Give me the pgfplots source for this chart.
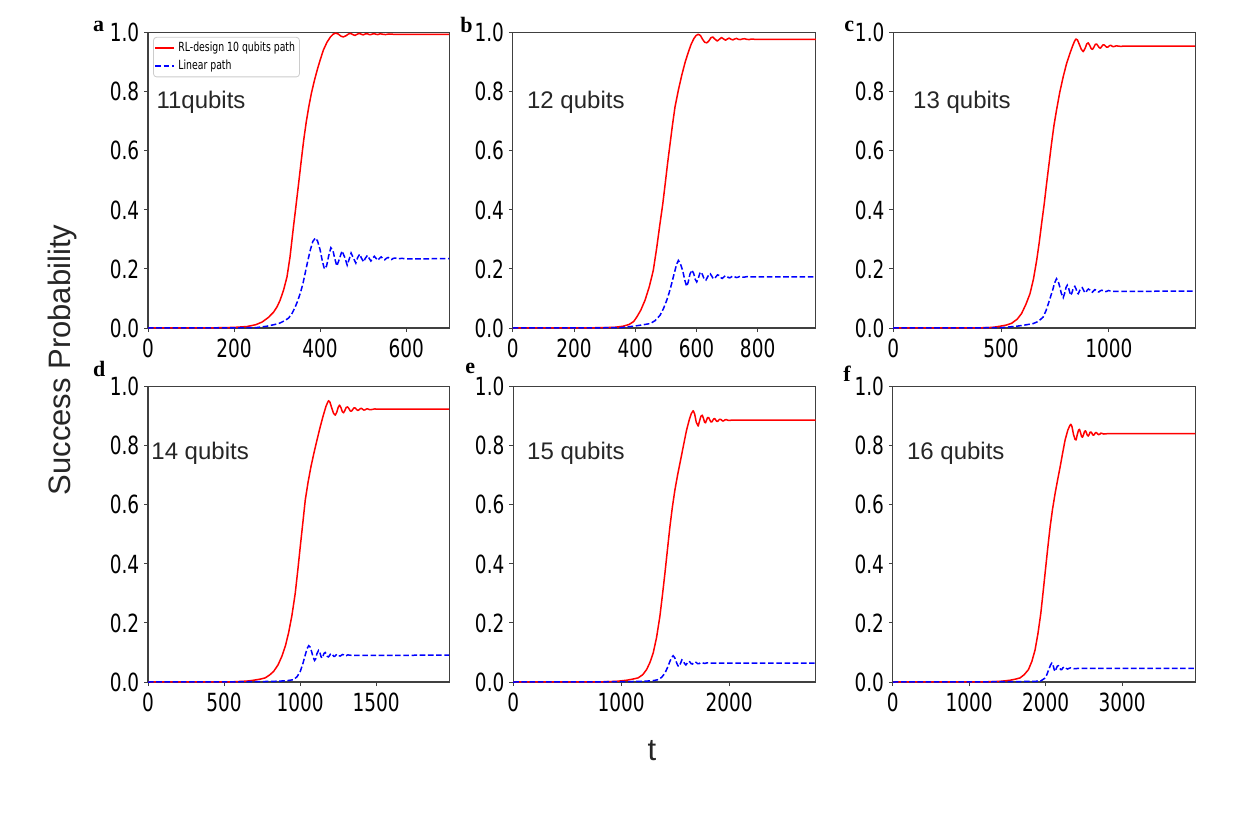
\documentclass[border=0pt]{standalone}
\usepackage{fontspec}
\setmainfont{Liberation Sans}
\newfontfamily\tickfont[FakeStretch=0.74]{DejaVu Sans}
\newfontfamily\letterfont{Liberation Serif}
\usepackage{pgfplots}
\pgfplotsset{compat=1.18}

\definecolor{framegray}{gray}{0.25}
\definecolor{textgray}{gray}{0.15}

\pgfplotsset{
  panel/.style={
    scale only axis, height=147.6bp, anchor=north west,
    xmin=0, ymin=0, ymax=1,
    ytick={0,0.2,0.4,0.6,0.8,1.0},
    yticklabels={0.0,0.2,0.4,0.6,0.8,1.0},
    axis line style={framegray, line width=0.6bp},
    tick style={framegray, line width=0.5bp},
    major tick length=2bp, tick align=outside,
    xtick pos=bottom, ytick pos=left,
    /pgf/number format/assume math mode=true,
    ticklabel style={font=\tickfont\fontsize{12.5bp}{12.5bp}\selectfont, inner sep=1.2bp},
    xticklabel style={yshift=-2.3bp},
    yticklabel style={xshift=-1bp},
    clip=true,
  },
  rl/.style={draw=red, line width=0.75bp, line join=round},
  lin/.style={draw=blue, line width=0.75bp, dash pattern=on 2.8bp off 1.3bp},
}
\tikzset{
  qlabel/.style={anchor=base west, font=\fontsize{12bp}{12bp}\selectfont, text=textgray, inner sep=0pt},
}

\begin{document}
\begin{tikzpicture}
\useasboundingbox (0,0) rectangle (620.5bp,-410bp);

% ---------------- a: 11 qubits ----------------
\begin{axis}[panel, at={(74bp,-16.4bp)}, width=150.6bp, xmax=700,
  xtick={0,200,400,600}, xticklabels={0,200,400,600},
  legend style={at={(0.017,0.986)}, anchor=north west, draw=black!20, line width=0.4bp,
    rounded corners=1.5bp, fill=white, font=\tickfont\fontsize{6.3bp}{7bp}\selectfont,
    inner xsep=0.6bp, inner ysep=1.7bp, row sep=1.4bp, cells={anchor=west},
    nodes={inner ysep=0.6bp, inner xsep=1.6bp}},
  legend image code/.code={\draw[#1] (0bp,0bp) -- (9.5bp,0bp);}]
\addplot[rl] coordinates {(0,0) (150,0.0005) (200,0.002) (230,0.005) (250,0.011) (265,0.02) (280,0.036) (292,0.054) (300,0.072) (307,0.094) (315,0.128) (323,0.173) (330,0.24) (338,0.342) (344,0.415) (350,0.489) (356,0.565) (362,0.638) (368,0.70) (374,0.752) (380,0.797) (387,0.84) (394,0.878) (401,0.912) (408,0.943) (416,0.968) (424,0.986) (430,0.995) (436,0.999) (442,0.996) (448,0.989) (454,0.986) (460,0.99) (466,0.996) (471,0.998) (476,0.994) (481,0.991) (486,0.995) (491,0.998) (496,0.995) (500,0.993) (505,0.996) (510,0.997) (514,0.994) (518,0.994) (522,0.996) (526,0.997) (530,0.995) (534,0.994) (538,0.996) (542,0.996) (546,0.995) (552,0.994) (560,0.996) (570,0.995) (700,0.995)};
\addlegendentry{RL-design 10 qubits path}
\addplot[lin] coordinates {(0,0) (250,0.001) (276,0.006) (295,0.012) (307,0.017) (318,0.025) (327,0.034) (335,0.05) (342,0.071) (348,0.092) (354,0.118) (360,0.15) (365,0.184) (371,0.225) (377,0.263) (383,0.293) (389,0.305) (394,0.295) (400,0.265) (405,0.228) (410,0.2) (415,0.21) (420,0.245) (425,0.272) (430,0.262) (434,0.235) (439,0.21) (445,0.235) (451,0.261) (457,0.24) (463,0.213) (468,0.235) (472,0.254) (477,0.238) (483,0.22) (487,0.238) (492,0.25) (496,0.237) (501,0.224) (505,0.236) (510,0.246) (514,0.236) (518,0.227) (522,0.236) (526,0.243) (530,0.236) (534,0.229) (538,0.236) (542,0.241) (546,0.235) (550,0.231) (554,0.236) (558,0.239) (562,0.235) (566,0.232) (570,0.236) (575,0.237) (580,0.234) (590,0.236) (600,0.234) (700,0.235)};
\addlegendentry{Linear path}
\node[qlabel] at (rel axis cs:0.027,0.742) {11qubits};
\end{axis}

% ---------------- b: 12 qubits ----------------
\begin{axis}[panel, at={(256.4bp,-16.4bp)}, width=151.5bp, xmax=990,
  xtick={0,200,400,600,800}, xticklabels={0,200,400,600,800}]
\addplot[rl] coordinates {(0,0) (250,0.0005) (330,0.002) (360,0.006) (380,0.012) (395,0.022) (405,0.037) (418,0.06) (432,0.094) (446,0.14) (459,0.195) (470,0.27) (481,0.354) (490,0.42) (498,0.489) (506,0.56) (514,0.625) (522,0.69) (530,0.749) (541,0.806) (552,0.856) (563,0.9) (574,0.936) (583,0.962) (592,0.981) (599,0.991) (606,0.995) (613,0.991) (620,0.978) (627,0.968) (634,0.966) (641,0.973) (647,0.983) (653,0.986) (660,0.979) (668,0.972) (675,0.978) (682,0.984) (689,0.979) (695,0.975) (701,0.979) (707,0.982) (713,0.978) (719,0.976) (725,0.979) (731,0.981) (737,0.978) (743,0.977) (750,0.979) (757,0.98) (764,0.978) (772,0.977) (780,0.979) (790,0.978) (990,0.978)};
\addplot[lin] coordinates {(0,0) (350,0.001) (394,0.006) (420,0.01) (449,0.015) (465,0.025) (481,0.043) (492,0.065) (503,0.094) (511,0.12) (519,0.15) (525,0.175) (530,0.195) (535,0.215) (541,0.229) (547,0.22) (555,0.195) (562,0.162) (568,0.141) (573,0.155) (579,0.183) (585,0.196) (591,0.185) (596,0.165) (601,0.156) (606,0.168) (611,0.185) (615,0.19) (620,0.18) (626,0.164) (631,0.162) (636,0.172) (641,0.182) (645,0.184) (650,0.176) (655,0.167) (659,0.167) (664,0.174) (669,0.18) (674,0.178) (679,0.171) (684,0.168) (689,0.172) (694,0.177) (699,0.176) (704,0.171) (709,0.17) (714,0.173) (719,0.176) (724,0.174) (730,0.171) (736,0.172) (742,0.175) (748,0.173) (755,0.172) (765,0.174) (780,0.173) (990,0.173)};
\node[qlabel] at (rel axis cs:0.046,0.742) {12 qubits};
\end{axis}

% ---------------- c: 13 qubits ----------------
\begin{axis}[panel, at={(446.6bp,-16.4bp)}, width=151bp, xmax=1400,
  xtick={0,500,1000}, xticklabels={0,500,1000}]
\addplot[rl] coordinates {(0,0) (400,0.0005) (460,0.002) (495,0.006) (525,0.01) (549,0.016) (575,0.03) (595,0.049) (615,0.08) (634,0.116) (650,0.165) (665,0.229) (677,0.29) (688,0.354) (700,0.42) (711,0.489) (723,0.56) (734,0.625) (745,0.685) (757,0.738) (772,0.798) (788,0.851) (803,0.894) (819,0.93) (833,0.958) (841,0.972) (847,0.979) (854,0.976) (862,0.962) (872,0.944) (881,0.936) (890,0.948) (897,0.962) (904,0.966) (912,0.956) (918,0.946) (924,0.944) (931,0.952) (937,0.961) (943,0.962) (950,0.955) (956,0.949) (961,0.948) (967,0.954) (972,0.959) (978,0.959) (984,0.955) (990,0.951) (996,0.952) (1002,0.956) (1008,0.958) (1014,0.955) (1020,0.953) (1027,0.954) (1034,0.956) (1042,0.955) (1055,0.954) (1070,0.955) (1400,0.955)};
\addplot[lin] coordinates {(0,0) (500,0.001) (572,0.006) (610,0.01) (649,0.015) (672,0.022) (695,0.037) (708,0.058) (719,0.082) (729,0.105) (739,0.128) (748,0.152) (757,0.167) (765,0.158) (772,0.14) (779,0.118) (788,0.103) (795,0.118) (801,0.137) (807,0.145) (814,0.133) (822,0.111) (828,0.118) (835,0.135) (842,0.141) (848,0.132) (853,0.118) (858,0.116) (864,0.126) (870,0.135) (876,0.137) (882,0.129) (888,0.12) (893,0.12) (899,0.128) (905,0.132) (911,0.129) (917,0.122) (923,0.121) (929,0.126) (935,0.13) (941,0.128) (947,0.123) (953,0.122) (960,0.126) (967,0.128) (974,0.126) (981,0.123) (989,0.124) (998,0.127) (1008,0.125) (1025,0.124) (1400,0.125)};
\node[qlabel] at (rel axis cs:0.065,0.742) {13 qubits};
\end{axis}

% ---------------- d: 14 qubits ----------------
\begin{axis}[panel, at={(74bp,-193.4bp)}, width=150.6bp, xmax=1980,
  xtick={0,500,1000,1500}, xticklabels={0,500,1000,1500}]
\addplot[rl] coordinates {(0,0) (550,0.0005) (650,0.003) (694,0.006) (740,0.01) (771,0.014) (800,0.024) (826,0.036) (855,0.058) (880,0.087) (903,0.122) (924,0.166) (946,0.225) (968,0.301) (985,0.38) (1001,0.459) (1018,0.54) (1034,0.617) (1052,0.676) (1071,0.729) (1091,0.776) (1111,0.82) (1131,0.862) (1150,0.899) (1170,0.934) (1180,0.946) (1187,0.953) (1196,0.948) (1208,0.928) (1220,0.91) (1231,0.904) (1241,0.914) (1250,0.93) (1259,0.938) (1268,0.93) (1277,0.916) (1286,0.912) (1295,0.921) (1303,0.93) (1312,0.932) (1321,0.926) (1330,0.918) (1339,0.918) (1347,0.924) (1355,0.929) (1363,0.928) (1371,0.923) (1379,0.92) (1387,0.922) (1395,0.926) (1403,0.927) (1411,0.924) (1419,0.921) (1427,0.922) (1436,0.925) (1445,0.925) (1455,0.923) (1470,0.923) (1490,0.925) (1520,0.924) (1980,0.924)};
\addplot[lin] coordinates {(0,0) (700,0.001) (800,0.002) (869,0.003) (920,0.005) (957,0.008) (980,0.018) (1001,0.036) (1018,0.062) (1034,0.092) (1045,0.112) (1056,0.123) (1066,0.118) (1075,0.104) (1085,0.085) (1095,0.073) (1102,0.078) (1110,0.095) (1121,0.107) (1130,0.1) (1137,0.087) (1143,0.081) (1150,0.087) (1157,0.097) (1165,0.1) (1172,0.095) (1179,0.087) (1186,0.085) (1193,0.089) (1200,0.095) (1207,0.096) (1214,0.092) (1221,0.087) (1228,0.087) (1235,0.091) (1242,0.094) (1249,0.093) (1256,0.089) (1263,0.088) (1270,0.09) (1278,0.093) (1286,0.092) (1294,0.089) (1303,0.089) (1313,0.092) (1325,0.091) (1345,0.09) (1980,0.091)};
\node[qlabel] at (rel axis cs:0.01,0.753) {14 qubits};
\end{axis}

% ---------------- e: 15 qubits ----------------
\begin{axis}[panel, at={(256.6bp,-193.4bp)}, width=151.2bp, xmax=2800,
  xtick={0,1000,2000}, xticklabels={0,1000,2000}]
\addplot[rl] coordinates {(0,0) (800,0.0005) (950,0.002) (1050,0.006) (1110,0.01) (1157,0.014) (1200,0.025) (1235,0.042) (1266,0.066) (1296,0.098) (1327,0.15) (1358,0.222) (1382,0.295) (1405,0.369) (1428,0.448) (1451,0.526) (1474,0.593) (1497,0.65) (1523,0.703) (1550,0.752) (1578,0.804) (1605,0.853) (1630,0.888) (1650,0.91) (1667,0.919) (1680,0.908) (1695,0.88) (1713,0.867) (1726,0.885) (1738,0.9) (1750,0.904) (1762,0.893) (1772,0.88) (1781,0.878) (1790,0.887) (1800,0.896) (1810,0.896) (1820,0.888) (1830,0.881) (1840,0.881) (1849,0.887) (1858,0.892) (1867,0.892) (1876,0.887) (1885,0.883) (1894,0.883) (1903,0.887) (1912,0.89) (1921,0.89) (1930,0.887) (1940,0.884) (1950,0.885) (1961,0.888) (1972,0.889) (1985,0.887) (2000,0.886) (2020,0.887) (2800,0.887)};
\addplot[lin] coordinates {(0,0) (1000,0.001) (1150,0.002) (1235,0.003) (1300,0.005) (1343,0.008) (1375,0.016) (1405,0.03) (1430,0.05) (1451,0.07) (1466,0.082) (1481,0.089) (1496,0.082) (1512,0.066) (1525,0.055) (1537,0.053) (1550,0.064) (1562,0.075) (1574,0.072) (1586,0.063) (1599,0.058) (1612,0.064) (1624,0.07) (1636,0.068) (1648,0.062) (1660,0.061) (1672,0.065) (1684,0.068) (1696,0.066) (1708,0.062) (1720,0.062) (1733,0.065) (1746,0.066) (1760,0.064) (1775,0.063) (1795,0.065) (1820,0.064) (2800,0.064)};
\node[qlabel] at (rel axis cs:0.045,0.753) {15 qubits};
\end{axis}

% ---------------- f: 16 qubits ----------------
\begin{axis}[panel, at={(446.4bp,-193.4bp)}, width=151.3bp, xmax=3960,
  xtick={0,1000,2000,3000}, xticklabels={0,1000,2000,3000}]
\addplot[rl] coordinates {(0,0) (1200,0.0005) (1400,0.002) (1535,0.006) (1610,0.01) (1666,0.014) (1720,0.025) (1775,0.042) (1820,0.07) (1862,0.109) (1900,0.165) (1937,0.233) (1965,0.3) (1993,0.369) (2026,0.45) (2059,0.526) (2090,0.585) (2124,0.639) (2157,0.685) (2190,0.729) (2222,0.775) (2255,0.82) (2290,0.853) (2315,0.868) (2330,0.873) (2345,0.865) (2365,0.838) (2385,0.822) (2399,0.82) (2412,0.836) (2430,0.853) (2443,0.856) (2455,0.846) (2470,0.832) (2482,0.829) (2495,0.837) (2508,0.848) (2521,0.851) (2533,0.845) (2545,0.836) (2557,0.833) (2569,0.838) (2581,0.846) (2593,0.847) (2605,0.843) (2617,0.837) (2629,0.836) (2641,0.84) (2653,0.845) (2665,0.845) (2678,0.841) (2692,0.838) (2707,0.839) (2722,0.843) (2740,0.842) (2760,0.84) (2800,0.841) (3960,0.841)};
\addplot[lin] coordinates {(0,0) (1500,0.001) (1800,0.002) (1932,0.003) (1985,0.012) (2016,0.025) (2045,0.045) (2065,0.058) (2081,0.064) (2097,0.058) (2112,0.042) (2124,0.036) (2138,0.045) (2154,0.054) (2168,0.055) (2183,0.048) (2198,0.042) (2211,0.042) (2226,0.048) (2241,0.051) (2255,0.05) (2270,0.046) (2287,0.044) (2305,0.046) (2325,0.048) (2350,0.046) (2380,0.045) (2420,0.046) (3960,0.046)};
\node[qlabel] at (rel axis cs:0.046,0.753) {16 qubits};
\end{axis}

% panel letters
\begin{scope}[every node/.style={anchor=base west, inner sep=0pt, font=\letterfont\bfseries\fontsize{11bp}{11bp}\selectfont}]
\node at (46.3bp,-15.9bp) {a};
\node at (230bp,-16.3bp) {b};
\node at (422bp,-15.9bp) {c};
\node at (46.3bp,-188.3bp) {d};
\node at (232.5bp,-186.7bp) {e};
\node at (421.5bp,-190.8bp) {f};
\end{scope}

% shared axis titles
\node[rotate=90, anchor=base, inner sep=0pt, text=textgray, font=\fontsize{15.5bp}{15.5bp}\selectfont] at (35bp,-180bp) {Success Probability};
\node[anchor=base, inner sep=0pt, text=textgray, font=\fontsize{15.5bp}{15.5bp}\selectfont] at (326bp,-380bp) {t};
\end{tikzpicture}
\end{document}
